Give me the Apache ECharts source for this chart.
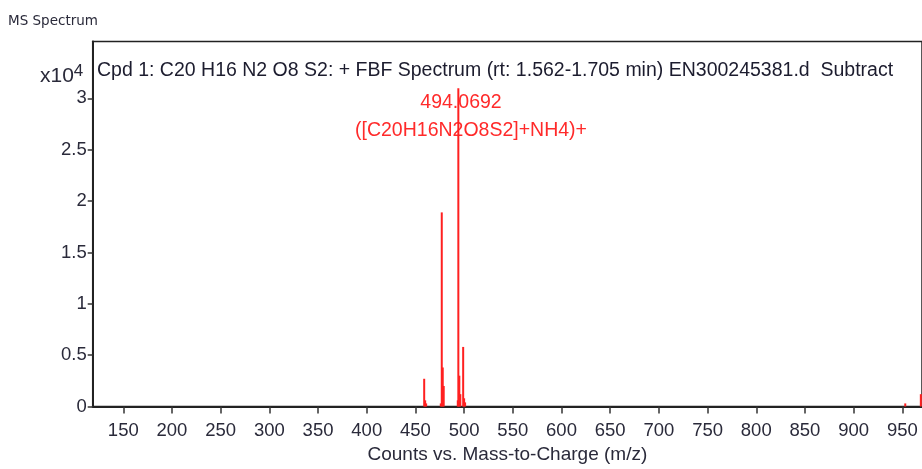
<!DOCTYPE html>
<html>
<head>
<meta charset="utf-8">
<script src="https://cdn.jsdelivr.net/npm/echarts@6/dist/echarts.min.js"></script>
<style>
html, body { margin: 0; padding: 0; background: #fff; }
#main { width: 922px; height: 469px; }
</style>
</head>
<body>
<div id="main"></div>
<script>
// peaks (m/z, counts)
var peakMz  = [459.0, 460.0, 461.0, 476.05, 477.05, 478.05, 479.05, 493.5, 494.07, 495.07, 496.1, 499.03, 500.0, 501.0, 953.0, 969.0];
var peakInt = [2700, 600, 300, 300, 18900, 3800, 2000, 600, 31000, 3000, 1200, 5800, 800, 400, 300, 1200];
var xTicks = [150, 200, 250, 300, 350, 400, 450, 500, 550, 600, 650, 700, 750, 800, 850, 900, 950];
var yTicks = [0, 5000, 10000, 15000, 20000, 25000, 30000];
var titleText = 'Cpd 1: C20 H16 N2 O8 S2: + FBF Spectrum (rt: 1.562-1.705 min) EN300245381.d  Subtract';
var peakLabel = ['494.0692', '([C20H16N2O8S2]+NH4)+'];

var data = [];
for (var i = 0; i < peakMz.length; i++) {
	data.push([peakMz[i], peakInt[i]]);
}

var myChart = echarts.init(document.getElementById('main'));
var option = {
	animation: false,
	textStyle: { fontFamily: 'Liberation Sans, Arial, sans-serif' },
	grid: {
		left: 92.7, top: 41.5, right: 0, bottom: 62.5,
		outerBoundsMode: 'none',
		show: true, borderColor: '#222', borderWidth: 1.5
	},
	title: [
		{
			text: 'MS Spectrum', left: 3, top: 9,
			textStyle: { fontSize: 13.5, fontWeight: 'normal', color: '#2a2a3a', fontFamily: 'DejaVu Sans, sans-serif' }
		},
		{
			text: titleText, left: 92, top: 56,
			textStyle: { fontSize: 19.5, fontWeight: 'normal', color: '#1c1c2e' }
		}
	],
	graphic: [
		{
			type: 'text', left: 40, top: 63,
			style: {
				text: '{b|x10}{s|4}',
				rich: {
					b: { fontSize: 21, fill: '#2a2a3a', fontFamily: 'Liberation Sans' },
					s: { fontSize: 17, fill: '#2a2a3a', verticalAlign: 'top', padding: [0, 0, 9, 0], fontFamily: 'Liberation Sans' }
				}
			}
		},
		{
			type: 'text', x: 461, y: 103,
			style: { text: peakLabel[0], fill: '#ff2a2a', fontSize: 19.5, fontFamily: 'Liberation Sans', align: 'center', verticalAlign: 'middle' }
		},
		{
			type: 'text', x: 471, y: 131,
			style: { text: peakLabel[1], fill: '#ff2a2a', fontSize: 19.5, fontFamily: 'Liberation Sans', align: 'center', verticalAlign: 'middle' }
		}
	],
	xAxis: {
		type: 'value',
		min: 118.6,
		max: 970.2,
		name: 'Counts vs. Mass-to-Charge (m/z)',
		nameLocation: 'middle',
		nameGap: 39,
		nameTextStyle: { fontSize: 19, color: '#2a2a3a' },
		splitLine: { show: false },
		axisLine: { lineStyle: { color: '#222', width: 2 } },
		axisTick: { customValues: xTicks, length: 7, lineStyle: { color: '#333', width: 1.5 } },
		axisLabel: { customValues: xTicks, fontSize: 18.5, color: '#2a2a3a', margin: 15 }
	},
	yAxis: {
		type: 'value',
		min: 0,
		max: 35540,
		splitLine: { show: false },
		axisLine: { show: true, lineStyle: { color: '#222', width: 2 } },
		axisTick: { show: true, customValues: yTicks, length: 5, lineStyle: { color: '#333', width: 1.5 } },
		axisLabel: {
			customValues: yTicks, fontSize: 18.5, color: '#2a2a3a', margin: 6,
			formatter: function (v) { return String(v / 10000); }
		}
	},
	series: [
		{
			type: 'bar',
			data: data,
			barWidth: 2,
			itemStyle: { color: '#ff2020' },
			clip: true
		}
	]
};
myChart.setOption(option);
</script>
</body>
</html>
